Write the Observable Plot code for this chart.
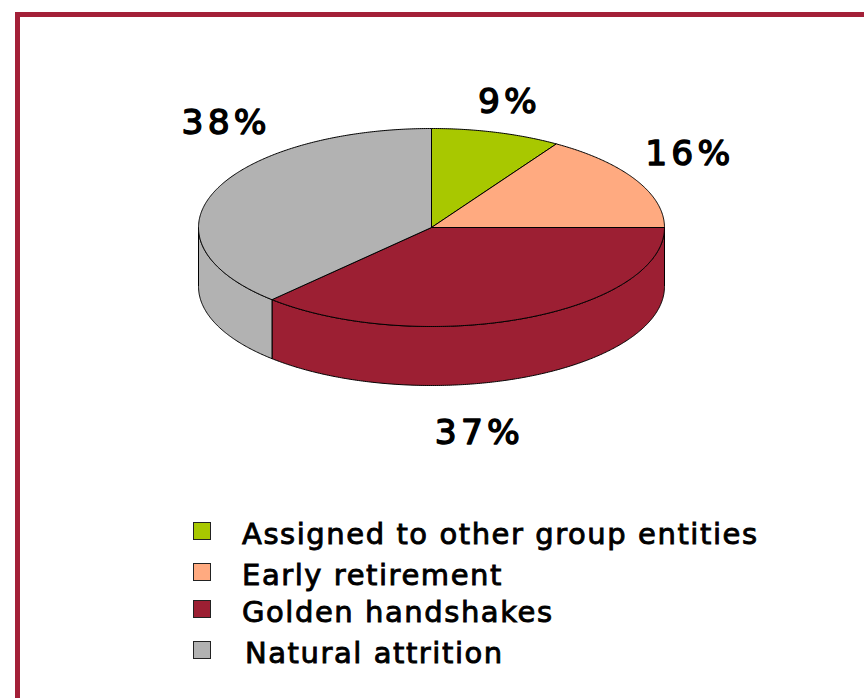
<!DOCTYPE html>
<html><head><meta charset="utf-8">
<script src="https://cdn.jsdelivr.net/npm/d3@7"></script>
<script src="https://cdn.jsdelivr.net/npm/@observablehq/plot@0.6"></script>
<style>
html,body{margin:0;padding:0;background:#fff;overflow:hidden;width:864px;height:698px}
#frame{position:absolute;left:14.7px;top:11.7px;width:900px;height:800px;border:5.8px solid #a32038;box-sizing:border-box}
#chart{position:absolute;left:0;top:0}
#chart svg{display:block;background:transparent}
#chart text{letter-spacing:4.2px}
#legend{position:absolute;left:0;top:510px;width:864px;height:188px;font-family:"DejaVu Sans",sans-serif;color:#000}
.row{position:absolute;left:0;width:864px;height:40px}
.sw{position:absolute;left:193px;top:12px;width:18px;height:18px;box-sizing:border-box;border:1px solid #222}
.lb{position:absolute;top:0;line-height:48px;font-size:29px;-webkit-text-stroke:.9px #000;white-space:nowrap;letter-spacing:1.56px}
</style></head><body>
<div id="frame"></div><div id="chart"></div><div id="legend"></div>
<script>
const categories = ["Assigned to other group entities","Early retirement","Golden handshakes","Natural attrition"];
const shares = [9,16,37,38];
const labels = ["9%","16%","37%","38%"];
const colors = ["#a8c800","#ffaa80","#9c1f33","#b2b2b2"];

const depth = 59/99;
const total = d3.sum(shares);
const cum = d3.cumsum(shares);
const slices = categories.map((name,i)=>({name,start:(i?cum[i-1]:0)/total,end:cum[i]/total}));
const at = (t,drop=0)=>({x:Math.sin(t*2*Math.PI),y:Math.cos(t*2*Math.PI)-drop});
const arc = (a,b,drop=0)=>{const n=Math.max(2,Math.ceil(Math.abs(b-a)*720));return d3.range(n+1).map(k=>at(a+(b-a)*k/n,drop));};

const topPts = slices.flatMap(s=>[{x:0,y:0},...arc(s.start,s.end),{x:0,y:0}].map(p=>({...p,name:s.name})));
const sidePts = slices.flatMap(s=>{
  const a=Math.max(s.start,.25), b=Math.min(s.end,.75);
  if(a>=b) return [];
  const ring=[...arc(a,b),...arc(b,a,depth)];
  ring.push(ring[0]);
  return ring.map(p=>({...p,name:s.name}));
});
// label anchors in pie units (radius = 1)
const labelAnchors = [[.326,1.27],[1.10,.74],[.197,-2.075],[-.89,1.06]];
const labelData = labels.map((t,i)=>({t,x:labelAnchors[i][0],y:labelAnchors[i][1]}));

const color = {domain:categories,range:colors};
const plot = Plot.plot({
  width:864,height:510,margin:0,
  x:{domain:[-1,1],range:[198,664],axis:null},
  y:{domain:[-1,1],range:[326,128],axis:null},
  color,
  style:{background:"transparent"},
  marks:[
    Plot.line(sidePts,{x:"x",y:"y",z:"name",fill:"name",stroke:"#000",strokeWidth:1,curve:"linear"}),
    Plot.line(topPts,{x:"x",y:"y",z:"name",fill:"name",stroke:"#000",strokeWidth:1,curve:"linear"}),
    Plot.text(labelData,{x:"x",y:"y",dx:2,text:"t",fontSize:34.5,fontWeight:"normal",fontFamily:"DejaVu Sans",fill:"#000",stroke:"#000",strokeWidth:1.4,textAnchor:"middle",lineAnchor:"middle"})
  ]
});
document.getElementById("chart").append(plot);

const rowTop=[0,41,78,119], rowLeft=[242,242,242,245];
const legend=document.getElementById("legend");
categories.forEach((c,i)=>{
  const r=document.createElement("div");r.className="row";r.style.top=rowTop[i]+"px";
  const s=document.createElement("div");s.className="sw";s.style.background=colors[i];
  const l=document.createElement("div");l.className="lb";l.textContent=c;l.style.left=rowLeft[i]+"px";
  r.append(s,l);legend.append(r);
});
</script>
</body></html>
